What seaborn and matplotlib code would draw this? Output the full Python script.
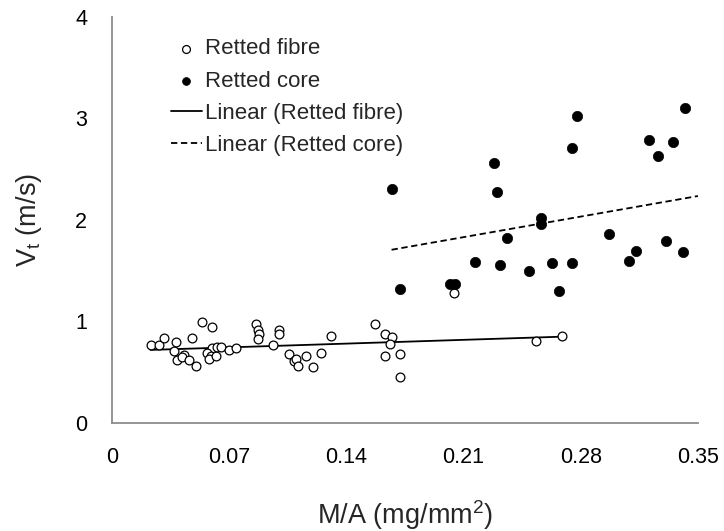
import numpy as np
import pandas as pd
import matplotlib
matplotlib.use("Agg")
import matplotlib.pyplot as plt
import seaborn as sns

# Retted fibre: mass per area (mg/mm^2) and terminal velocity (m/s)
fibre_ma = [0.023, 0.028, 0.031, 0.038, 0.037, 0.039, 0.043, 0.042, 0.046, 0.050,
            0.048, 0.054, 0.060, 0.060, 0.057, 0.059, 0.058, 0.062, 0.063, 0.065,
            0.070, 0.074, 0.086, 0.087, 0.088, 0.087, 0.096, 0.100, 0.100, 0.106,
            0.109, 0.110, 0.111, 0.116, 0.120, 0.125, 0.131, 0.157, 0.163, 0.167,
            0.166, 0.163, 0.172, 0.172, 0.204, 0.253, 0.269]
fibre_vt = [0.77, 0.77, 0.84, 0.80, 0.71, 0.62, 0.67, 0.65, 0.62, 0.56,
            0.84, 0.99, 0.94, 0.74, 0.69, 0.66, 0.63, 0.66, 0.75, 0.75,
            0.72, 0.74, 0.97, 0.92, 0.88, 0.83, 0.77, 0.92, 0.88, 0.68,
            0.61, 0.63, 0.56, 0.66, 0.55, 0.69, 0.86, 0.97, 0.88, 0.85,
            0.78, 0.66, 0.68, 0.45, 1.28, 0.81, 0.86]

# Retted core
core_ma = [0.167, 0.228, 0.230, 0.256, 0.256, 0.236, 0.217, 0.232, 0.249, 0.172,
           0.202, 0.205, 0.278, 0.342, 0.275, 0.321, 0.335, 0.326, 0.297, 0.263,
           0.275, 0.267, 0.313, 0.309, 0.331, 0.341]
core_vt = [2.30, 2.56, 2.27, 2.02, 1.96, 1.82, 1.58, 1.55, 1.50, 1.32,
           1.37, 1.37, 3.02, 3.10, 2.71, 2.78, 2.77, 2.63, 1.86, 1.57,
           1.57, 1.30, 1.69, 1.59, 1.79, 1.68]

# Linear trendline coefficients (slope, intercept) and their x extents
fibre_trend = (0.53, 0.707)
fibre_trend_x = [0.023, 0.269]
core_trend = (2.89, 1.222)
core_trend_x = [0.167, 0.35]

x_ticks = [0, 0.07, 0.14, 0.21, 0.28, 0.35]
x_tick_labels = ["0", "0.07", "0.14", "0.21", "0.28", "0.35"]
y_ticks = [0, 1, 2, 3, 4]

fibre = pd.DataFrame({"ma": fibre_ma, "vt": fibre_vt})
core = pd.DataFrame({"ma": core_ma, "vt": core_vt})

sns.set_theme(style="white")
plt.rcParams["font.family"] = ["Liberation Sans", "DejaVu Sans"]
plt.rcParams["mathtext.fontset"] = "custom"
plt.rcParams["mathtext.rm"] = "Liberation Sans"

fig = plt.figure(figsize=(7.24, 5.31), dpi=100)
ax = fig.add_axes([0.1547, 0.2034, 0.8093, 0.7655])

sns.scatterplot(data=fibre, x="ma", y="vt", ax=ax, marker="o", s=40,
                facecolor="white", edgecolor="black", linewidth=0.9,
                label="Retted fibre", zorder=3)
sns.scatterplot(data=core, x="ma", y="vt", ax=ax, marker="o", s=55,
                color="black", edgecolor="black", linewidth=0.5,
                label="Retted core", zorder=3)

for (k, b), xr, ls, lab in [(fibre_trend, fibre_trend_x, "-", "Linear (Retted fibre)"),
                            (core_trend, core_trend_x, (0, (3.5, 2)), "Linear (Retted core)")]:
    xs = np.array(xr)
    ax.plot(xs, k * xs + b, color="black", linestyle=ls, linewidth=1.3,
            label=lab, zorder=2)

ax.set_xlim(0, 0.35)
ax.set_ylim(0, 4)
ax.set_xticks(x_ticks)
ax.set_xticklabels(x_tick_labels)
ax.set_yticks(y_ticks)
ax.tick_params(axis="both", length=0, labelsize=15.5, colors="black")
ax.tick_params(axis="x", pad=17)
ax.tick_params(axis="y", pad=18)

for side in ["top", "right"]:
    ax.spines[side].set_visible(False)
for side in ["left", "bottom"]:
    ax.spines[side].set_color("#8c8c8c")
    ax.spines[side].set_linewidth(1.3)

ax.set_xlabel("M/A (mg/mm$^\\mathrm{2}$)", fontsize=19.5, labelpad=22)
ax.set_ylabel("V$_\\mathrm{t}$ (m/s)", fontsize=19.5, labelpad=22)

leg = ax.legend(loc="upper left", bbox_to_anchor=(0.085, 0.968), frameon=False,
                fontsize=16, handlelength=1.4, handletextpad=0.15,
                labelspacing=0.5, borderaxespad=0)
leg.legend_handles[0].set_sizes([32])
leg.legend_handles[1].set_sizes([32])

fig.savefig("out.png", dpi=100)
